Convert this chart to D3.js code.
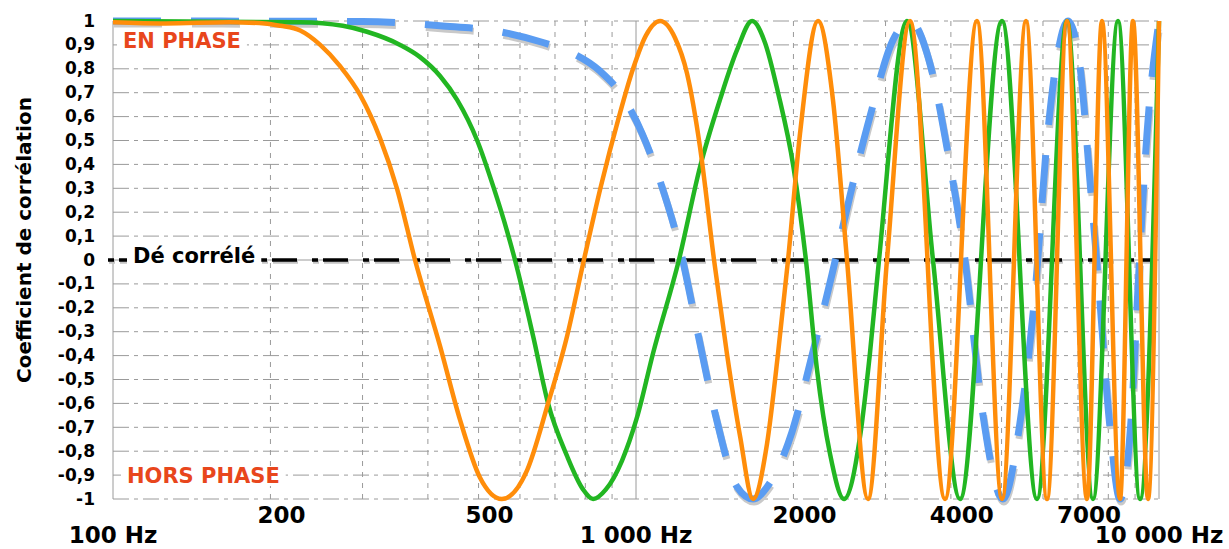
<!DOCTYPE html>
<html>
<head>
<meta charset="utf-8">
<script src="https://cdn.jsdelivr.net/npm/d3@7/dist/d3.min.js"></script>
<style>
  body { margin: 0; background: #fff; }
  svg { display: block; font-family: "DejaVu Sans", Verdana, sans-serif; font-weight: bold; }
</style>
</head>
<body>
<div id="chart"></div>
<script>
// values: [frequency Hz, correlation]
var orange = [[100,0.995],[126,0.99],[167,0.995],[195,0.99],[209,0.98],[228,0.96],[249,0.90],[272,0.81],[297,0.69],
  [324,0.51],[349,0.30],[378,0],[422,-0.36],[461,-0.67],[503,-0.91],[554,-1],[619,-0.88],[679,-0.60],[738,-0.32],
  [795,0],[857,0.31],[928,0.60],[987,0.80],[1045,0.94],[1112,1],[1187,0.93],[1252,0.78],[1326,0.47],[1410,0],
  [1492,-0.39],[1582,-0.74],[1674,-1],[1780,-0.77],[1869,-0.39],[1953,0],[2059,0.53],[2229,1],[2380,0.67],[2532,0],
  [2777,-1],[3019,0],[3341,1],[3898,-1],[4487,1],[5010,-1],[5568,1],[6108,-1],[6670,1],[7283,-1],[7780,1],
  [8422,-1],[8918,1],[9528,-1],[10000,1]];

var green = [[100,1],[228,0.995],[275,0.98],[306,0.955],[354,0.90],[386,0.85],[422,0.77],[455,0.67],[497,0.50],
  [533,0.31],[567,0.12],[587,0],[636,-0.32],[679,-0.60],[738,-0.82],[792,-0.96],[828,-1],[876,-0.96],[940,-0.84],
  [1004,-0.66],[1078,-0.39],[1208,0],[1326,0.39],[1447,0.67],[1561,0.88],[1667,1],[1764,0.91],[1869,0.70],
  [2000,0.39],[2113,0],[2219,-0.46],[2349,-0.81],[2499,-1],[2681,-0.74],[2801,-0.39],[2915,0],[3298,1],[3697,0],
  [4164,-1],[5010,1],[5844,-1],[6670,1],[7478,-1],[8349,1],[9197,-1],[10000,1]];

var blue = [[100,1],[300,0.998],[422,0.98],[550,0.955],[664,0.91],[748,0.87],[854,0.79],[932,0.70],[1027,0.53],
  [1112,0.33],[1225,0.01],[1314,-0.31],[1416,-0.64],[1561,-0.95],[1674,-1],[1780,-0.95],[1987,-0.72],[2170,-0.40],
  [2370,-0.06],[2566,0.27],[2801,0.60],[3100,0.92],[3341,1],[3649,0.82],[3932,0.47],[4257,0],[4587,-0.62],
  [5031,-1],[5423,-0.68],[5793,-0.14],[6108,0.50],[6411,0.87],[6699,1],[7062,0.81],[7380,0.33],[7645,-0.07],
  [8059,-0.70],[8422,-1],[8879,-0.61],[9116,-0.12],[9487,0.53],[10000,1]];

var yTicks = [-1,-0.9,-0.8,-0.7,-0.6,-0.5,-0.4,-0.3,-0.2,-0.1,0,0.1,0.2,0.3,0.4,0.5,0.6,0.7,0.8,0.9,1];
var yTickLabels = ["-1","-0,9","-0,8","-0,7","-0,6","-0,5","-0,4","-0,3","-0,2","-0,1","0",
  "0,1","0,2","0,3","0,4","0,5","0,6","0,7","0,8","0,9","1"];
var xGrid = [100,200,300,400,500,600,700,800,900,1000,2000,3000,4000,5000,6000,7000,8000,9000,10000];
var xMajor = [100,1000,10000];
var xLabels = [
  {f:100, text:"100 Hz", row:1}, {f:200, text:"200", row:0}, {f:500, text:"500", row:0},
  {f:1000, text:"1 000 Hz", row:1}, {f:2000, text:"2000", row:0}, {f:4000, text:"4000", row:0},
  {f:7000, text:"7000", row:0}, {f:10000, text:"10 000 Hz", row:1}];

var width = 1229, height = 549;
var svg = d3.select("#chart").append("svg").attr("width", width).attr("height", height);

var x = d3.scaleLog().domain([100, 10000]).range([113, 1159]);
var y = d3.scaleLinear().domain([-1, 1]).range([499, 21]);

// grid
var grid = svg.append("g").attr("stroke", "#9a9a9a").attr("stroke-width", 1);
grid.selectAll(".hg").data(yTicks).enter().append("line")
  .attr("x1", x(100)).attr("x2", x(10000))
  .attr("y1", d => y(d)).attr("y2", d => y(d))
  .attr("stroke-dasharray", d => d === 0 ? null : "16,5,4,5");
grid.selectAll(".vg").data(xGrid).enter().append("line")
  .attr("x1", d => x(d)).attr("x2", d => x(d))
  .attr("y1", y(1)).attr("y2", y(-1))
  .attr("stroke-dasharray", d => xMajor.indexOf(d) >= 0 ? null : "5,6");

// zero line "Dé corrélé"
var zero = svg.append("g");
zero.append("line").attr("x1", 103).attr("x2", 1157).attr("y1", y(0) + 2).attr("y2", y(0) + 2)
  .attr("stroke", "#c4c4c4").attr("stroke-width", 3.5)
  .attr("stroke-dasharray", "6,5,25,15").attr("stroke-dashoffset", 45);
zero.append("line").attr("x1", 103).attr("x2", 1157).attr("y1", y(0)).attr("y2", y(0))
  .attr("stroke", "#000").attr("stroke-width", 3.5)
  .attr("stroke-dasharray", "6,5,25,15").attr("stroke-dashoffset", 46);

var line = d3.line().x(d => x(d[0])).y(d => y(d[1])).curve(d3.curveMonotoneX);

// blue dashed with shadow, then green, orange on top
svg.append("path").datum(blue).attr("d", line).attr("fill", "none")
  .attr("stroke", "#c9c9c9").attr("stroke-width", 7).attr("stroke-dasharray", "48,30")
  .attr("transform", "translate(1,3)");
svg.append("path").datum(blue).attr("d", line).attr("fill", "none")
  .attr("stroke", "#5a9cf2").attr("stroke-width", 7).attr("stroke-dasharray", "48,30");
svg.append("path").datum(green).attr("d", line).attr("fill", "none")
  .attr("stroke", "#22b622").attr("stroke-width", 4.5);
svg.append("path").datum(orange).attr("d", line).attr("fill", "none")
  .attr("stroke", "#ff8d0a").attr("stroke-width", 4.5);

// labels with white background
function boxedText(txt, px, py, size, color) {
  var g = svg.append("g");
  var r = g.append("rect").attr("fill", "#fff");
  var t = g.append("text").attr("x", px).attr("y", py).attr("font-size", size)
    .attr("fill", color).text(txt);
  var b = t.node().getBBox();
  r.attr("x", b.x - 6).attr("y", b.y + 2).attr("width", b.width + 12).attr("height", b.height - 4);
}
boxedText("EN PHASE", 123, 48, 21, "#e8461c");
boxedText("HORS PHASE", 127, 483, 21, "#e8461c");
boxedText("Dé corrélé", 133, 263, 21, "#000");

// y axis labels
svg.append("g").selectAll("text").data(yTicks).enter().append("text")
  .attr("x", 95).attr("y", d => y(d) + 5.5).attr("text-anchor", "end")
  .attr("font-size", 17).attr("fill", "#000")
  .text((d, i) => yTickLabels[i]);

// x axis labels, two rows
svg.append("g").selectAll("text").data(xLabels).enter().append("text")
  .attr("x", d => x(d.f) + (d.row ? 0 : 11)).attr("y", d => d.row ? 543 : 523)
  .attr("text-anchor", "middle").attr("font-size", 23).attr("fill", "#000")
  .text(d => d.text);

svg.append("text").attr("transform", "translate(31,240) rotate(-90)")
  .attr("text-anchor", "middle").attr("font-size", 20).attr("fill", "#000")
  .text("Coefficient de corrélation");
</script>
</body>
</html>
